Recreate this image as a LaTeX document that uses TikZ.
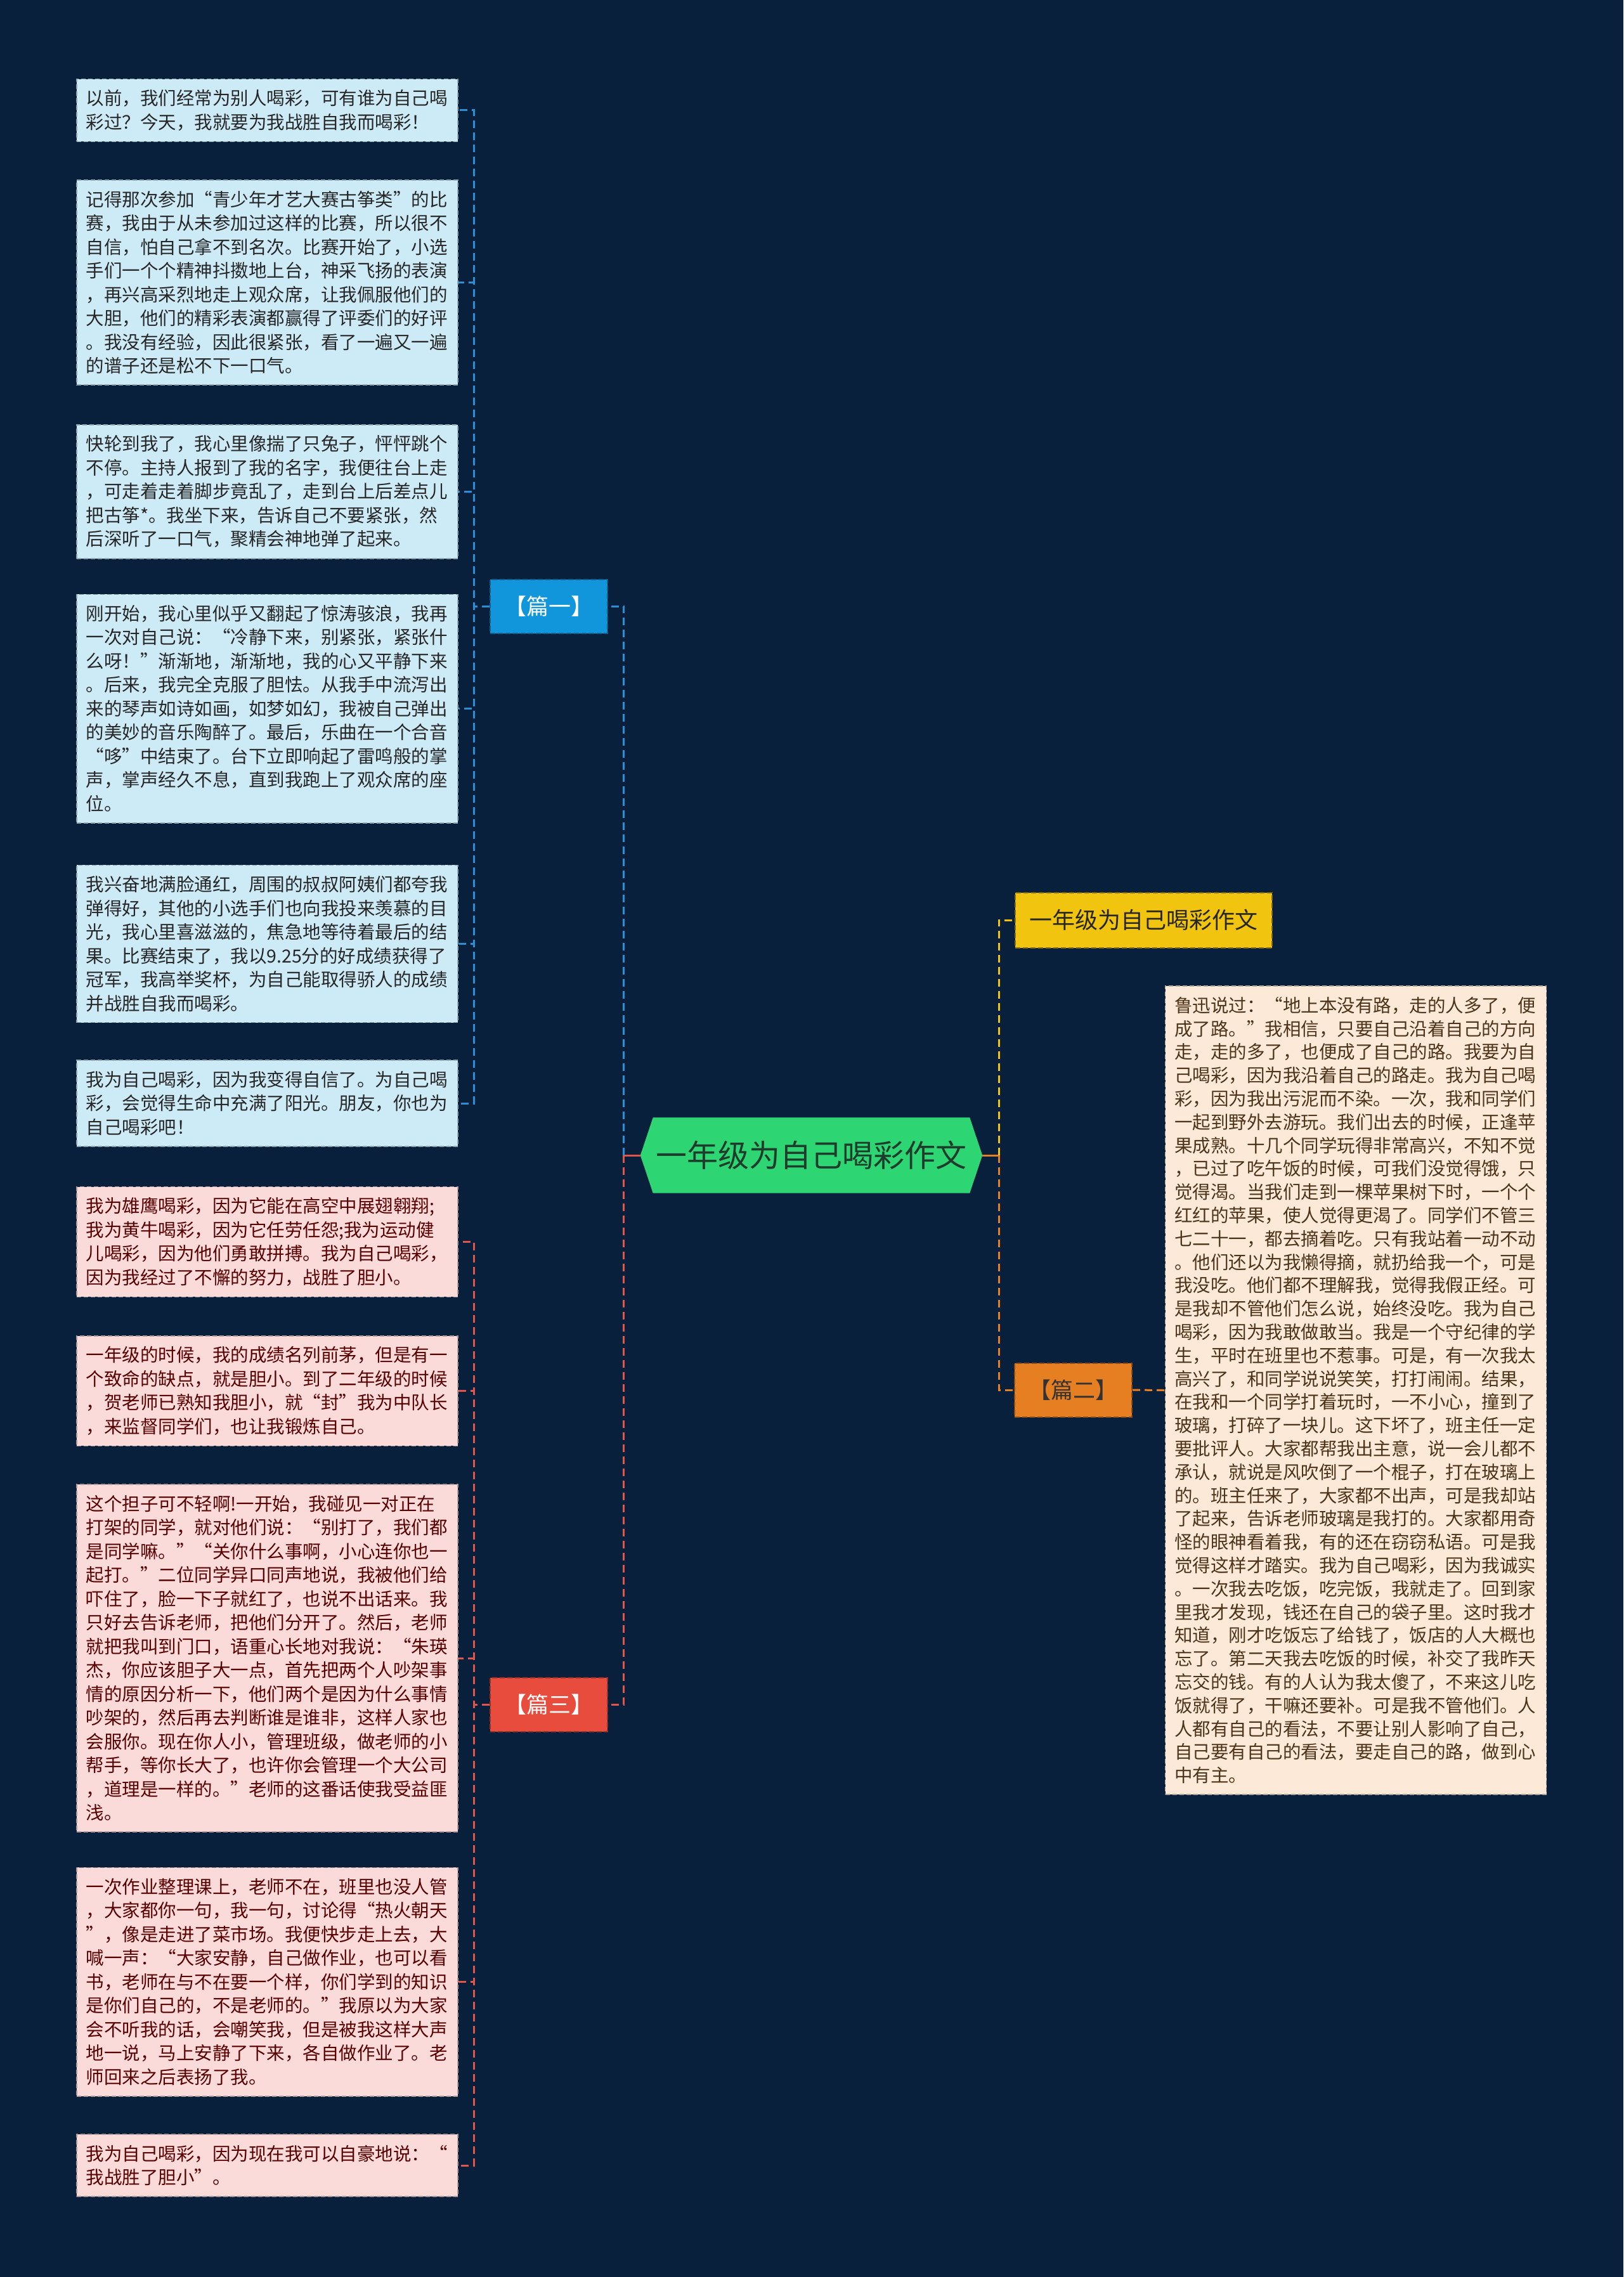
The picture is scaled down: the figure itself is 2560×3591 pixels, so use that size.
\documentclass[tikz,border=0pt]{standalone}
\usepackage{fontspec}
\usepackage{tikz}
\usetikzlibrary{backgrounds}
\newfontfamily\cjk{Noto Sans CJK SC}
\definecolor{mmnavy}{HTML}{08203B}
\definecolor{mmgreen}{HTML}{2ED573}
\definecolor{mmgreentext}{HTML}{1E3B2C}
\definecolor{mmbluedark}{HTML}{1296DB}
\definecolor{mmredtopic}{HTML}{E74C3C}
\definecolor{mmorange}{HTML}{E67E22}
\definecolor{mmyellow}{HTML}{F1C40F}
\definecolor{linkblue}{HTML}{2A90D6}
\definecolor{linkred}{HTML}{E2554A}
\definecolor{leafblue}{HTML}{CDEAF7}
\definecolor{leafpink}{HTML}{FADBD9}
\definecolor{leafpeach}{HTML}{FCE9D8}
\tikzset{
  mmlink/.style={line width=3pt, dash pattern=on 12pt off 7pt},
  mmblueline/.style={mmlink, draw=linkblue},
  mmredline/.style={mmlink, draw=linkred},
  mmyellowline/.style={mmlink, draw=mmyellow},
  mmorangeline/.style={mmlink, draw=mmorange},
  mmroot/.style={minimum width=539pt, minimum height=119pt, inner sep=0pt, text=mmgreentext, font=\cjk\fontsize{49pt}{58pt}\selectfont},
  mmtopic/.style={minimum width=185pt, minimum height=85pt, inner sep=0pt, line width=2pt, dash pattern=on 8pt off 4pt, font=\cjk\fontsize{35pt}{42pt}\selectfont},
  mmleaf/.style={text width=572pt, inner xsep=14.5pt, inner ysep=17pt, align=left, line width=1.6pt, dash pattern=on 7pt off 4pt, font=\cjk\fontsize{28.5pt}{37.5pt}\selectfont},
  mmleafblue/.style={mmleaf, fill=leafblue, draw=leafblue!70!black, text=black!85},
  mmleafpink/.style={mmleaf, fill=leafpink, draw=leafpink!70!black, text=red!35!black},
  mmleafpeach/.style={mmleaf, fill=leafpeach, draw=leafpeach!70!black, text=brown!40!black, font=\cjk\fontsize{28.5pt}{36.8pt}\selectfont},
}
\begin{document}
\begin{tikzpicture}[x=1pt,y=-1pt]
\useasboundingbox (0,0) rectangle (2560,3591);
\begin{scope}[on background layer]
\fill[mmnavy] (0,0) rectangle (2560,3591);
\end{scope}
\node[mmroot] (root) at (1279.5,1822) {一年级为自己喝彩作文};
\begin{scope}[on background layer]
\fill[mmgreen] (root.west) -- ([xshift=20pt]root.north west) -- ([xshift=-20pt]root.north east) -- (root.east) -- ([xshift=-20pt]root.south east) -- ([xshift=20pt]root.south west) -- cycle;
\end{scope}
\node[mmtopic, fill=mmbluedark, draw=mmbluedark!65!black, text=white] (p1) at (865.5,956) {【篇一】};
\node[mmtopic, fill=mmredtopic, draw=mmredtopic!65!black, text=white] (p3) at (865.5,2688) {【篇三】};
\node[mmtopic, fill=mmorange, draw=mmorange!60!black, text=black!80] (p2) at (1692.5,2192) {【篇二】};
\node[mmtopic, minimum width=405pt, minimum height=87pt, fill=mmyellow, draw=mmyellow!55!black, text=black!85, font=\cjk\fontsize{36pt}{42pt}\selectfont] (yel) at (1803.5,1451) {一年级为自己喝彩作文};
\coordinate (lhub) at ([xshift=-26pt]root.west);
\coordinate (rhub) at ([xshift=26pt]root.east);
\node[mmleafblue] (b1) at (421.5,174) {以前，我们经常为别人喝彩，可有谁为自己喝\\彩过？今天，我就要为我战胜自我而喝彩！};
\node[mmleafblue] (b2) at (421.5,445.5) {记得那次参加“青少年才艺大赛古筝类”的比\\赛，我由于从未参加过这样的比赛，所以很不\\自信，怕自己拿不到名次。比赛开始了，小选\\手们一个个精神抖擞地上台，神采飞扬的表演\\，再兴高采烈地走上观众席，让我佩服他们的\\大胆，他们的精彩表演都赢得了评委们的好评\\。我没有经验，因此很紧张，看了一遍又一遍\\的谱子还是松不下一口气。};
\node[mmleafblue] (b3) at (421.5,775.5) {快轮到我了，我心里像揣了只兔子，怦怦跳个\\不停。主持人报到了我的名字，我便往台上走\\，可走着走着脚步竟乱了，走到台上后差点儿\\把古筝*。我坐下来，告诉自己不要紧张，然\\后深听了一口气，聚精会神地弹了起来。};
\node[mmleafblue] (b4) at (421.5,1117.5) {刚开始，我心里似乎又翻起了惊涛骇浪，我再\\一次对自己说：“冷静下来，别紧张，紧张什\\么呀！”渐渐地，渐渐地，我的心又平静下来\\。后来，我完全克服了胆怯。从我手中流泻出\\来的琴声如诗如画，如梦如幻，我被自己弹出\\的美妙的音乐陶醉了。最后，乐曲在一个合音\\“哆”中结束了。台下立即响起了雷鸣般的掌\\声，掌声经久不息，直到我跑上了观众席的座\\位。};
\node[mmleafblue] (b5) at (421.5,1488.5) {我兴奋地满脸通红，周围的叔叔阿姨们都夸我\\弹得好，其他的小选手们也向我投来羡慕的目\\光，我心里喜滋滋的，焦急地等待着最后的结\\果。比赛结束了，我以9.25分的好成绩获得了\\冠军，我高举奖杯，为自己能取得骄人的成绩\\并战胜自我而喝彩。};
\node[mmleafblue] (b6) at (421.5,1740) {我为自己喝彩，因为我变得自信了。为自己喝\\彩，会觉得生命中充满了阳光。朋友，你也为\\自己喝彩吧！};
\node[mmleafpink] (c1) at (421.5,1958.5) {我为雄鹰喝彩，因为它能在高空中展翅翱翔;\\我为黄牛喝彩，因为它任劳任怨;我为运动健\\儿喝彩，因为他们勇敢拼搏。我为自己喝彩，\\因为我经过了不懈的努力，战胜了胆小。};
\node[mmleafpink] (c2) at (421.5,2193.5) {一年级的时候，我的成绩名列前茅，但是有一\\个致命的缺点，就是胆小。到了二年级的时候\\，贺老师已熟知我胆小，就“封”我为中队长\\，来监督同学们，也让我锻炼自己。};
\node[mmleafpink] (c3) at (421.5,2615) {这个担子可不轻啊!一开始，我碰见一对正在\\打架的同学，就对他们说：“别打了，我们都\\是同学嘛。”“关你什么事啊，小心连你也一\\起打。”二位同学异口同声地说，我被他们给\\吓住了，脸一下子就红了，也说不出话来。我\\只好去告诉老师，把他们分开了。然后，老师\\就把我叫到门口，语重心长地对我说：“朱瑛\\杰，你应该胆子大一点，首先把两个人吵架事\\情的原因分析一下，他们两个是因为什么事情\\吵架的，然后再去判断谁是谁非，这样人家也\\会服你。现在你人小，管理班级，做老师的小\\帮手，等你长大了，也许你会管理一个大公司\\，道理是一样的。”老师的这番话使我受益匪\\浅。};
\node[mmleafpink] (c4) at (421.5,3125.5) {一次作业整理课上，老师不在，班里也没人管\\，大家都你一句，我一句，讨论得“热火朝天\\”，像是走进了菜市场。我便快步走上去，大\\喊一声：“大家安静，自己做作业，也可以看\\书，老师在与不在要一个样，你们学到的知识\\是你们自己的，不是老师的。”我原以为大家\\会不听我的话，会嘲笑我，但是被我这样大声\\地一说，马上安静了下来，各自做作业了。老\\师回来之后表扬了我。};
\node[mmleafpink] (c5) at (421.5,3415) {我为自己喝彩，因为现在我可以自豪地说：“\\我战胜了胆小”。};
\node[mmleafpeach] (d1) at (2138,2192.5) {鲁迅说过：“地上本没有路，走的人多了，便\\成了路。”我相信，只要自己沿着自己的方向\\走，走的多了，也便成了自己的路。我要为自\\己喝彩，因为我沿着自己的路走。我为自己喝\\彩，因为我出污泥而不染。一次，我和同学们\\一起到野外去游玩。我们出去的时候，正逢苹\\果成熟。十几个同学玩得非常高兴，不知不觉\\，已过了吃午饭的时候，可我们没觉得饿，只\\觉得渴。当我们走到一棵苹果树下时，一个个\\红红的苹果，使人觉得更渴了。同学们不管三\\七二十一，都去摘着吃。只有我站着一动不动\\。他们还以为我懒得摘，就扔给我一个，可是\\我没吃。他们都不理解我，觉得我假正经。可\\是我却不管他们怎么说，始终没吃。我为自己\\喝彩，因为我敢做敢当。我是一个守纪律的学\\生，平时在班里也不惹事。可是，有一次我太\\高兴了，和同学说说笑笑，打打闹闹。结果，\\在我和一个同学打着玩时，一不小心，撞到了\\玻璃，打碎了一块儿。这下坏了，班主任一定\\要批评人。大家都帮我出主意，说一会儿都不\\承认，就说是风吹倒了一个棍子，打在玻璃上\\的。班主任来了，大家都不出声，可是我却站\\了起来，告诉老师玻璃是我打的。大家都用奇\\怪的眼神看着我，有的还在窃窃私语。可是我\\觉得这样才踏实。我为自己喝彩，因为我诚实\\。一次我去吃饭，吃完饭，我就走了。回到家\\里我才发现，钱还在自己的袋子里。这时我才\\知道，刚才吃饭忘了给钱了，饭店的人大概也\\忘了。第二天我去吃饭的时候，补交了我昨天\\忘交的钱。有的人认为我太傻了，不来这儿吃\\饭就得了，干嘛还要补。可是我不管他们。人\\人都有自己的看法，不要让别人影响了自己，\\自己要有自己的看法，要走自己的路，做到心\\中有主。};
\draw[mmredline, solid] (root.west) -- (lhub);
\draw[mmorangeline, solid] (root.east) -- (rhub);
\draw[mmblueline] (lhub) |- (p1.east);
\draw[mmredline] (lhub) |- (p3.east);
\draw[mmyellowline] (rhub) |- (yel.west);
\draw[mmorangeline] (rhub) |- (p2.west);
\draw[mmorangeline] (p2.east) -- (d1.west);
\foreach \leaf in {b1,b2,b3,b4,b5,b6}
  \draw[mmblueline] (p1.west) -- ++(-25,0) |- (\leaf.east);
\foreach \leaf in {c1,c2,c3,c4,c5}
  \draw[mmredline] (p3.west) -- ++(-25,0) |- (\leaf.east);
\end{tikzpicture}
\end{document}
